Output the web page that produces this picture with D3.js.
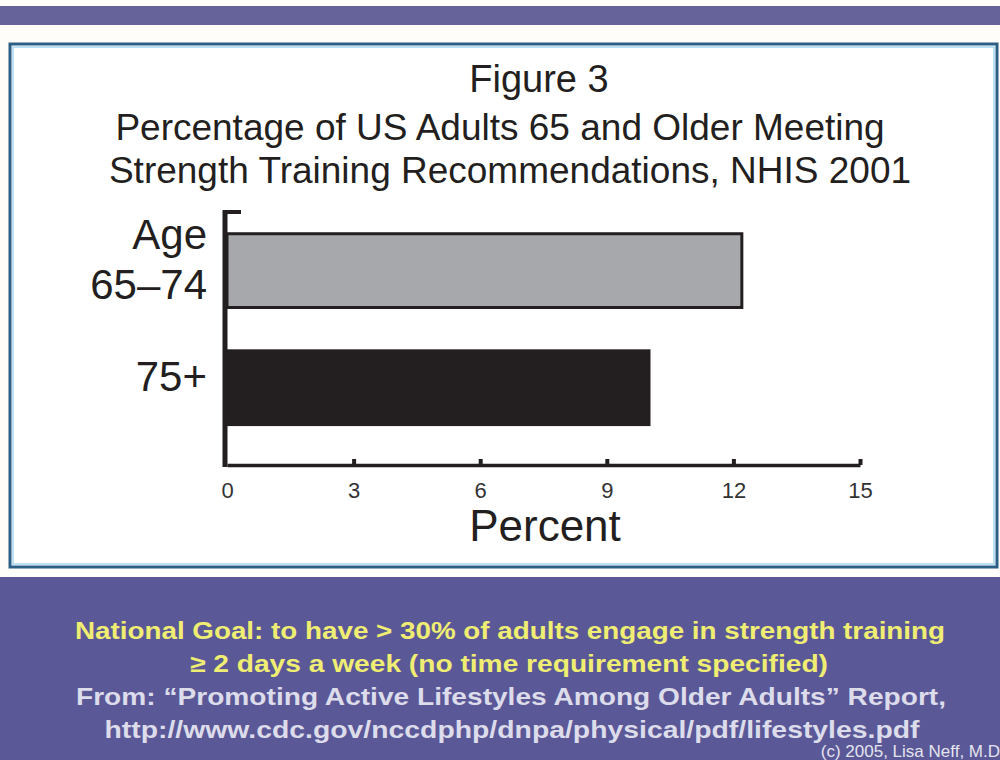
<!DOCTYPE html>
<html><head><meta charset="utf-8">
<script src="https://cdn.jsdelivr.net/npm/d3@7"></script>
<style>html,body{margin:0;padding:0;background:#fff}svg{display:block}</style>
</head><body>
<svg id="c" width="1000" height="760"></svg>
<script>
const categories = ["65–74", "75+"];
const categoryLabels = [["Age", "65–74"], ["75+"]];
const values = [12.2, 10.0];
const barColors = ["#a7a8ab", "#231f20"];
const xTicks = [0, 3, 6, 9, 12, 15];
const titleLines = ["Figure 3", "Percentage of US Adults 65 and Older Meeting", "Strength Training Recommendations, NHIS 2001"];
const xLabel = "Percent";
const noteLines = [
  "National Goal: to have > 30% of adults engage in strength training",
  "≥ 2 days a week (no time requirement specified)",
  "From: “Promoting Active Lifestyles Among Older Adults” Report,",
  "http://www.cdc.gov/nccdphp/dnpa/physical/pdf/lifestyles.pdf"
];
const credit = "(c) 2005, Lisa Neff, M.D";

const svg = d3.select("#c");
// backgrounds
svg.append("rect").attr("x",0).attr("y",0).attr("width",1000).attr("height",760).attr("fill","#fffdf9");
svg.append("rect").attr("x",0).attr("y",6).attr("width",1000).attr("height",19).attr("fill","#66639a");
svg.append("rect").attr("x",0).attr("y",577).attr("width",1000).attr("height",183).attr("fill","#5b5898");
// frame
svg.append("rect").attr("x",10).attr("y",44).attr("width",987).attr("height",523)
  .attr("fill","#ffffff").attr("stroke","#2c5f86").attr("stroke-width",3);
svg.append("rect").attr("x",13).attr("y",47).attr("width",981).attr("height",517)
  .attr("fill","none").attr("stroke","#a9d6f0").attr("stroke-width",1.5);

const font = "'Liberation Sans', Arial, Helvetica, sans-serif";
// titles
const tY = [92, 140, 183], tS = [38, 37, 37], tX = [539, 500, 510];
titleLines.forEach((t,i)=>{
  svg.append("text").attr("x", tX[i]).attr("y",tY[i]).attr("text-anchor","middle")
    .attr("font-family",font).attr("font-size",tS[i]).attr("fill","#231f20").text(t);
});

const x = d3.scaleLinear().domain([0,15]).range([227,860]);
const y = d3.scaleBand().domain(categories).range([210,465]).paddingInner(0.37).paddingOuter(0.274).align(0.37);

// bars
svg.selectAll("rect.bar").data(values).join("rect").attr("class","bar")
  .attr("x", x(0)).attr("y",(d,i)=>y(categories[i]))
  .attr("width", d=>x(d)-x(0)).attr("height", y.bandwidth())
  .attr("fill",(d,i)=>barColors[i]).attr("stroke","#231f20").attr("stroke-width",3);

// x axis
const xAxis = d3.axisBottom(x).tickValues(xTicks).tickSize(-6).tickPadding(14).tickSizeOuter(0);
const gx = svg.append("g").attr("transform","translate(0,465)").call(xAxis);
gx.select(".domain").attr("stroke","#231f20").attr("stroke-width",3.5);
gx.selectAll(".tick line").attr("stroke","#231f20").attr("stroke-width",4);
gx.selectAll(".tick text").attr("font-family","'Liberation Sans Narrow', 'Liberation Sans', Arial, sans-serif")
  .attr("font-size",22).attr("fill","#333").attr("dy","0.85em");
gx.selectAll(".tick").filter(d=>d===0).select("line").remove();

// y axis line
svg.append("line").attr("x1",x(0)-2).attr("x2",x(0)-2).attr("y1",210).attr("y2",467)
  .attr("stroke","#231f20").attr("stroke-width",5);
svg.append("line").attr("x1",x(0)-4).attr("x2",241).attr("y1",212).attr("y2",212)
  .attr("stroke","#231f20").attr("stroke-width",4);

// category labels
categoryLabels.forEach((lines,i)=>{
  const cy = y(categories[i]) + y.bandwidth()/2;
  const n = lines.length, lh = 50;
  lines.forEach((l,j)=>{
    svg.append("text").attr("x",207).attr("y", cy + (j-(n-1)/2)*lh + 3)
      .attr("text-anchor","end").attr("font-family",font).attr("font-size",42)
      .attr("fill","#231f20").text(l);
  });
});

// x label
svg.append("text").attr("x",545).attr("y",541).attr("text-anchor","middle")
  .attr("font-family",font).attr("font-size",44).attr("fill","#231f20").text(xLabel);

// notes
const nY = [639, 672, 705, 738];
const nX = [510, 509, 511, 512];
const nW = [870, 638, 870, 815];
const nC = ["#f0ee72", "#f0ee72", "#dcdcea", "#dcdcea"];
noteLines.forEach((t,i)=>{
  svg.append("text").attr("x",nX[i]).attr("y",nY[i]).attr("text-anchor","middle")
    .attr("font-family",font).attr("font-weight","bold").attr("font-size",24)
    .attr("textLength", nW[i]).attr("lengthAdjust","spacingAndGlyphs")
    .attr("fill",nC[i]).text(t);
});
svg.append("text").attr("x",1000).attr("y",757).attr("text-anchor","end")
  .attr("font-family",font).attr("font-size",17).attr("fill","#e4e4ee").text(credit);
</script>
</body></html>
